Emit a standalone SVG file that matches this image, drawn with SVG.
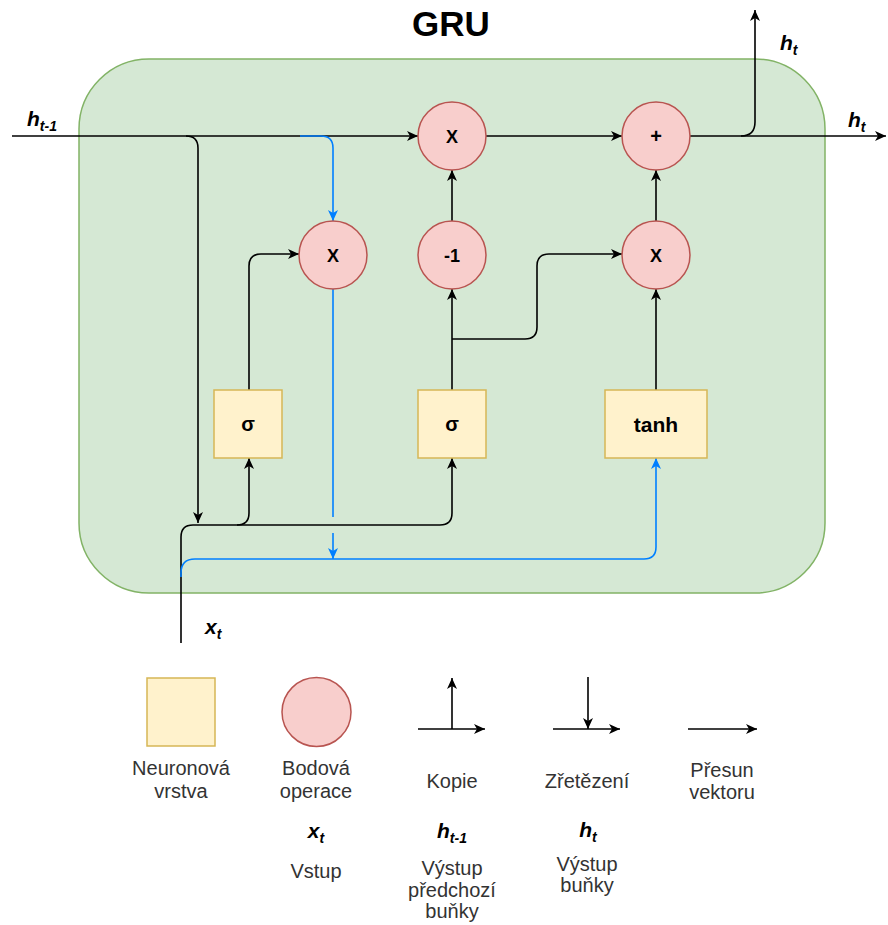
<svg xmlns="http://www.w3.org/2000/svg" width="888" height="925" viewBox="0 0 888 925">
<style>
.op{fill:#f8cecc;stroke:#b85450;stroke-width:1.5}
.nn{fill:#fff2cc;stroke:#d6b656;stroke-width:1.5}
.ln{fill:none;stroke:#000;stroke-width:1.6}
.bl{fill:none;stroke:#007fff;stroke-width:1.6}
.t{font-family:"Liberation Sans",Arial,sans-serif;fill:#000;text-anchor:middle}
.lg{font-family:"Liberation Sans",Arial,sans-serif;fill:#333;font-size:20px;text-anchor:middle}
.m{font-family:"Liberation Sans",Arial,sans-serif;font-style:italic;font-weight:bold;font-size:21px;fill:#000}
.s{font-size:14px}
</style>
<defs>
<marker id="a" viewBox="0 0 11 10" refX="11" refY="5" markerWidth="11" markerHeight="10" markerUnits="userSpaceOnUse" orient="auto"><path d="M0,0 L11,5 L0,10 L3,5 Z" fill="#000"/></marker>
<marker id="ab" viewBox="0 0 11 10" refX="11" refY="5" markerWidth="11" markerHeight="10" markerUnits="userSpaceOnUse" orient="auto"><path d="M0,0 L11,5 L0,10 L3,5 Z" fill="#007fff"/></marker>
</defs>
<rect width="888" height="925" fill="#fff"/>
<text class="t" x="451" y="36" font-size="35" font-weight="bold">GRU</text>
<g id="cell"><rect x="79" y="59" width="746" height="534" rx="70" ry="70" fill="#d5e8d4" stroke="#82b366" stroke-width="1.5"/></g>
<g id="connectors">
<path class="ln" d="M12,136 L418,136" marker-end="url(#a)"/>
<path class="ln" d="M486,136 L622,136" marker-end="url(#a)"/>
<path class="ln" d="M690,136 L886,136" marker-end="url(#a)"/>
<path class="ln" d="M741,136 Q755,136 755,122 L755,10" marker-end="url(#a)"/>
<path class="ln" d="M186,136 Q198,136 198,148 L198,523" marker-end="url(#a)"/>
<path class="bl" d="M300,136 L321,136 Q333,136 333,148 L333,221" marker-end="url(#ab)"/>
<path class="ln" d="M452,221 L452,170" marker-end="url(#a)"/>
<path class="ln" d="M452,390 L452,289" marker-end="url(#a)"/>
<path class="ln" d="M452,339 L525,339 Q537,339 537,327 L537,266 Q537,254 549,254 L622,254" marker-end="url(#a)"/>
<path class="ln" d="M656,390 L656,289" marker-end="url(#a)"/>
<path class="ln" d="M656,221 L656,170" marker-end="url(#a)"/>
<path class="ln" d="M249,390 L249,266 Q249,254 261,254 L299,254" marker-end="url(#a)"/>
<path class="bl" d="M333,289 L333,517"/>
<path class="bl" d="M333,533 L333,559" marker-end="url(#ab)"/>
<path class="ln" d="M181,643 L181,537 Q181,525 193,525 L440,525 Q452,525 452,513 L452,458" marker-end="url(#a)"/>
<path class="ln" d="M237,525 Q249,525 249,513 L249,458" marker-end="url(#a)"/>
<path class="bl" d="M181,577 L181,573 Q181,559 195,559 L644,559 Q656,559 656,547 L656,458" marker-end="url(#ab)"/>
</g>
<g id="mul_reset"><circle class="op" cx="333" cy="255" r="34"/><text class="t" x="333" y="262" font-size="18" font-weight="bold">X</text></g>
<g id="mul_top"><circle class="op" cx="452" cy="136" r="34"/><text class="t" x="452" y="143" font-size="18" font-weight="bold">X</text></g>
<g id="plus"><circle class="op" cx="656" cy="136" r="34"/><text class="t" x="656" y="143" font-size="20" font-weight="bold">+</text></g>
<g id="minus1"><circle class="op" cx="452" cy="255" r="34"/><text class="t" x="452" y="262" font-size="18" font-weight="bold">-1</text></g>
<g id="mul_right"><circle class="op" cx="656" cy="255" r="34"/><text class="t" x="656" y="262" font-size="18" font-weight="bold">X</text></g>
<g id="sigma1"><rect class="nn" x="214" y="390" width="68" height="68"/><text class="t" x="248" y="431" font-size="20" font-weight="bold">σ</text></g>
<g id="sigma2"><rect class="nn" x="418" y="390" width="68" height="68"/><text class="t" x="452" y="431" font-size="20" font-weight="bold">σ</text></g>
<g id="tanh"><rect class="nn" x="605" y="390" width="102" height="68"/><text class="t" x="656" y="432" font-size="21" font-weight="bold">tanh</text></g>
<text class="m" x="27" y="126">h<tspan class="s" dy="5">t-1</tspan></text>
<text class="m" x="780" y="50">h<tspan class="s" dy="5">t</tspan></text>
<text class="m" x="848" y="127">h<tspan class="s" dy="5">t</tspan></text>
<text class="m" x="205" y="634">x<tspan class="s" dy="5">t</tspan></text>
<g id="legend_layer"><rect class="nn" x="147" y="678" width="68" height="68"/>
<text class="lg" x="181" y="775">Neuronová</text><text class="lg" x="181" y="798">vrstva</text></g>
<g id="legend_op"><circle class="op" cx="316.5" cy="712" r="34.5"/>
<text class="lg" x="316" y="775">Bodová</text><text class="lg" x="316" y="798">operace</text>
<text class="m" x="316" y="838" text-anchor="middle">x<tspan class="s" dy="5">t</tspan></text>
<text class="lg" x="316" y="878">Vstup</text></g>
<g id="legend_copy"><path class="ln" d="M418,729 L485,729" marker-end="url(#a)"/><path class="ln" d="M452,729 L452,678" marker-end="url(#a)"/>
<text class="lg" x="452" y="788">Kopie</text>
<text class="m" x="452" y="838" text-anchor="middle">h<tspan class="s" dy="5">t-1</tspan></text>
<text class="lg" x="452" y="875">Výstup</text><text class="lg" x="452" y="897">předchozí</text><text class="lg" x="452" y="918">buňky</text></g>
<g id="legend_concat"><path class="ln" d="M553,729 L620,729" marker-end="url(#a)"/><path class="ln" d="M588,677 L588,729" marker-end="url(#a)"/>
<text class="lg" x="587" y="788">Zřetězení</text>
<text class="m" x="588" y="837" text-anchor="middle">h<tspan class="s" dy="5">t</tspan></text>
<text class="lg" x="587" y="871">Výstup</text><text class="lg" x="587" y="892">buňky</text></g>
<g id="legend_move"><path class="ln" d="M688,729 L757,729" marker-end="url(#a)"/>
<text class="lg" x="722" y="777">Přesun</text><text class="lg" x="722" y="799">vektoru</text></g>
</svg>
